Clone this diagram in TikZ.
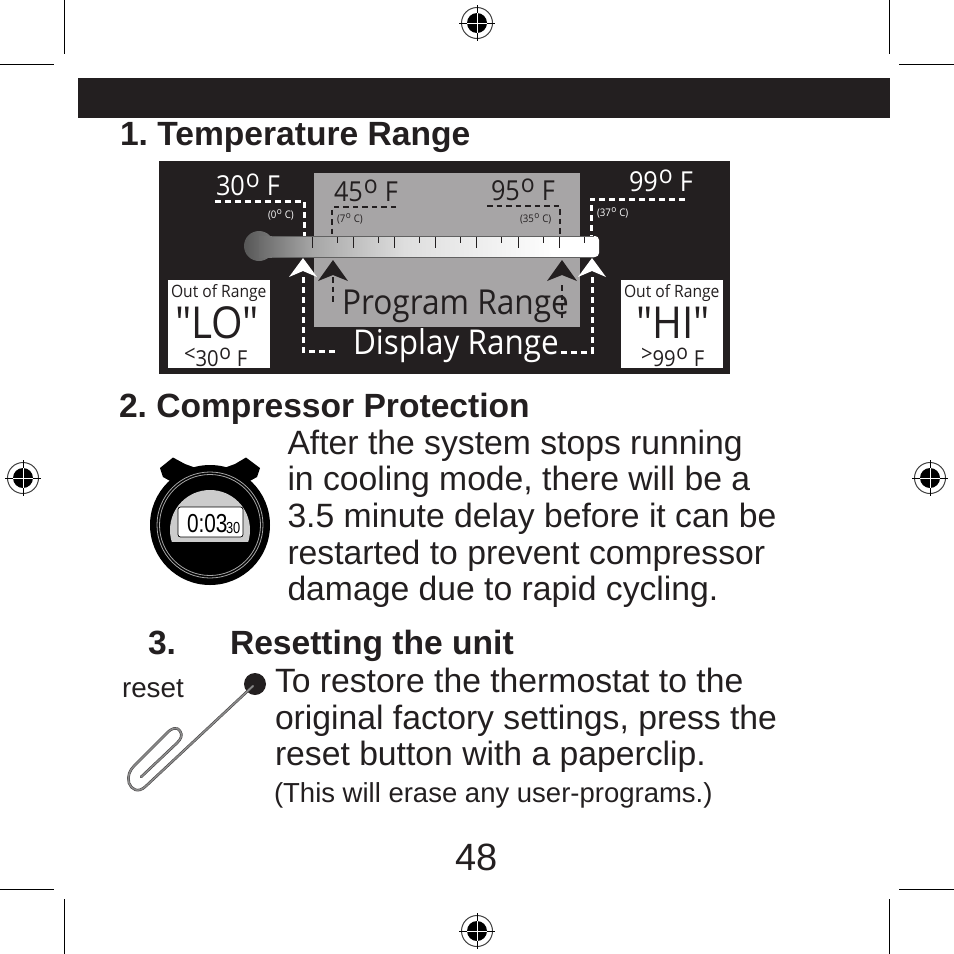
\documentclass[tikz,border=0pt]{standalone}
\usepackage{fontspec}
\setmainfont{Liberation Sans}
\newfontfamily\myr[FakeStretch=0.92]{Open Sans}
\newfontfamily\lcd[FakeStretch=0.8]{Liberation Sans}
\usetikzlibrary{calc}
\definecolor{ink}{HTML}{231F20}
\definecolor{midgrey}{HTML}{A7A5A6}
\frenchspacing
\newcommand{\degF}[3]{\fontsize{#1}{#1}\selectfont #2\kern.03em\raisebox{.28em}{\fontsize{#3}{#3}\selectfont o}\kern.26em F}
\newcommand{\degC}[1]{\fontsize{10.5}{10.5}\selectfont (#1\kern.05em\raisebox{.3em}{\fontsize{9}{9}\selectfont o}\kern.28em C)}
\tikzset{
 x=1pt,y=-1pt,
 txt/.style={anchor=base west,inner sep=0pt,outer sep=0pt,text=ink},
 head/.style={txt,font=\fontsize{33.6}{37}\selectfont\bfseries},
 body/.style={txt,font=\fontsize{33.7}{37}\selectfont},
 pan/.style={txt,font=\myr},
 crop/.style={draw=black,line width=1pt},
 wd/.style={draw=white,line width=3pt,dash pattern=on 6pt off 4pt},
 kd/.style={draw=ink,line width=2.5pt,dash pattern=on 5.5pt off 4pt},
 tick/.style={draw=ink,line width=.9pt},
}
\newcommand{\regmark}[1]{%
 \begin{scope}[shift={(#1)}]
  \draw[black!75,line width=1pt] (0,0) circle (15.5);
  \draw[black,line width=1pt] (-18,0)--(18,0) (0,-18)--(0,18);
  \fill[black] (0,0) circle (10);
  \draw[white,line width=.8pt] (-10,0)--(10,0) (0,-10)--(0,10);
 \end{scope}}
\begin{document}
\begin{tikzpicture}
\useasboundingbox (0,0) rectangle (954,954);
\fill[white] (0,0) rectangle (954,954);
% crop marks
\draw[crop] (64,0)--(64,54) (0,64)--(54,64) (889,0)--(889,54) (899,64)--(954,64)
 (0,889)--(54,889) (64,899)--(64,954) (899,889)--(954,889) (889,899)--(889,954);
\regmark{477,23}\regmark{477,931}\regmark{23,478}\regmark{930,478}
% header
\fill[ink] (78,78) rectangle (890,118);
\node[head] (h1) at (120,145) {1. Temperature Range};
% panel
\fill[ink] (159,161) rectangle (730,374);
\fill[midgrey] (314,173) rectangle (580,327);
% thermometer
\shade[left color=black!66,right color=black!52] (259,246) circle (15);
\shade[left color=black!58,right color=black!35] (259,236) rectangle (312.5,257);
\shade[left color=black!35,right color=black!13] (312,236) rectangle (404.5,257);
\shade[left color=black!13,right color=white] (404,236) rectangle (560,257);
\fill[white,rounded corners=4pt] (550,236) rectangle (599,257);
\draw[black!62,line width=1pt] (272,236.5)--(594,236.5) (272,257)--(594,257);
\foreach \k in {0,...,6} {
 \draw[tick] ({312+41.2*\k},237)--++(0,11);
 \draw[tick] ({337+41.2*\k},237)--++(0,6);
}
% white dashed
\draw[wd] (215,201)--(304,201)--(304,236);
\draw[wd] (685,199)--(591,199)--(591,236);
\draw[wd] (303,277)--(303,351)--(335,351);
\draw[wd] (592,277)--(592,352)--(558,352);
% black dashed
\draw[kd] (396,207)--(332,207)--(332,236);
\draw[kd] (487,206)--(560,206)--(560,236);
\draw[kd] (333,277)--(333,304);
\draw[kd] (562,285)--(562,318);
% arrows
\fill[white] (303,258)--(317,277)--(303,271)--(289,277)--cycle;
\fill[white] (592,258)--(606,277)--(592,271)--(578,277)--cycle;
\fill[ink] (333,260)--(348,281)--(333,275)--(318,281)--cycle;
\fill[ink] (562,260)--(577,281)--(562,275)--(547,281)--cycle;
% panel labels
\node[pan,text=white] (t30) at (216,195) {\degF{27.5}{30}{25}};
\node[pan,text=white] (t99) at (629,191) {\degF{27.5}{99}{25}};
\node[pan] (t45) at (334,201) {\degF{27.5}{45}{25}};
\node[pan] (t95) at (491,200) {\degF{27.5}{95}{25}};
\node[pan,text=white] (c0) at (268,218) {\degC{0}};
\node[pan] (c7) at (337,222) {\degC{7}};
\node[pan] (c35) at (520,222) {\degC{35}};
\node[pan,text=white] (c37) at (597,216) {\degC{37}};
\node[pan,font=\myr\fontsize{34.4}{34}\selectfont] (prog) at (342,314) {Program Range};
\node[pan,text=white,font=\myr\fontsize{34.2}{34}\selectfont] (disp) at (353,354) {Display Range};
% side boxes
\fill[white] (168,280) rectangle (270,368);
\fill[white] (621,280) rectangle (723,368);
\node[pan,font=\myr\fontsize{17}{17}\selectfont] (o1) at (171,297) {Out of Range};
\node[pan,font=\myr\fontsize{17}{17}\selectfont] (o2) at (624,297) {Out of Range};
\node[pan,font=\myr\fontsize{44}{44}\selectfont] (lo) at (175,338) {"LO"};
\node[pan,font=\myr\fontsize{44}{44}\selectfont] (hi) at (636,338) {"HI"};
\node[pan] (l30) at (184,366) {\degF{22}{\raisebox{.2em}{\fontsize{22}{22}\selectfont <}30}{21}};
\node[pan] (g99) at (641,366) {\degF{22}{\raisebox{.2em}{\fontsize{22}{22}\selectfont >}99}{21}};
% section 2
\node[head] (h2) at (119,417) {2. Compressor Protection};
\node[body] (b1) at (287.5,454) {After the system stops running};
\node[body] (b2) at (287.5,490) {in cooling mode, there will be a};
\node[body] (b3) at (287.5,527) {3.5 minute delay before it can be};
\node[body] (b4) at (287.5,564) {restarted to prevent compressor};
\node[body] (b5) at (287.5,600) {damage due to rapid cycling.};
% stopwatch
\fill[black] (160,468)--(173,457.5)--(185,464)--(196,468)--(172,482)--(163,477)--cycle;
\fill[black] (260,468)--(246,457.5)--(235,464)--(224,468)--(248,482)--(257,477)--cycle;
\fill[black] (210,525) circle (60);
\draw[black!35,line width=.8pt] (210,525) circle (53);
\draw[black!35,line width=.8pt] (210,525) circle (50.5);
\begin{scope}
 \clip (160,470) rectangle (260,541);
 \fill[black!20] (210,530) circle (40);
\end{scope}
\draw[black,fill=white,line width=.7pt,rounded corners=2.5pt] (178,507) rectangle (243,537);
\node[txt,text=black,font=\lcd\fontsize{26}{26}\selectfont] (t1) at (187,532) {0:03};
\node[txt,text=black,font=\lcd\fontsize{16}{16}\selectfont] (t2) at (226,533) {30};
% section 3
\node[head] (h3a) at (148,654) {3.};
\node[head] (h3b) at (230,654) {Resetting the unit};
\node[txt,font=\fontsize{27.8}{27}\selectfont] (rs) at (122,697) {reset};
\node[body] (c1) at (275,692) {To restore the thermostat to the};
\node[body] (c2) at (275,729) {original factory settings, press the};
\node[body] (c3) at (275,765) {reset button with a paperclip.};
\node[txt,font=\fontsize{27.5}{27}\selectfont] (c4) at (274,802) {(This will erase any user-programs.)};
% reset dot + clip
\fill[ink] (255,684) circle (11);
\def\clippath{(253,686)--(146,786) .. controls (138,794) and (131,789) .. (129,783) .. controls (127,776) and (130,770) .. (134,766)--(166,734) .. controls (172,727) and (178,727) .. (180,731) .. controls (183,735) and (181,739) .. (177,743)--(141,777)}
\draw[ink!85,line width=2.6pt,line cap=round,line join=round] \clippath;
\draw[black!45,line width=1.5pt,line cap=round,line join=round] \clippath;
% page number
\node[txt,anchor=base,font=\fontsize{38}{38}\selectfont] (pg) at (477,870) {48};
\end{tikzpicture}
\end{document}
